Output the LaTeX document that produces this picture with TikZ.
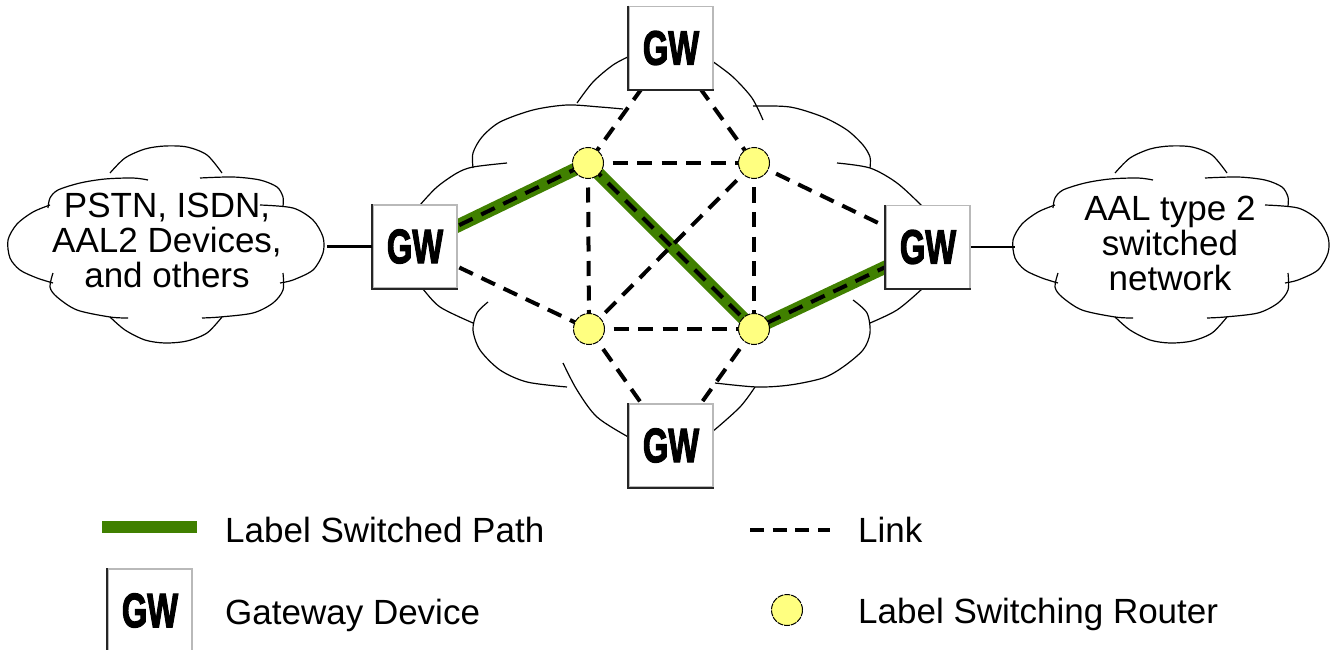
\documentclass[tikz,border=0pt]{standalone}
\usepackage{fontspec}
\setmainfont{Liberation Sans}
\newfontfamily\gwfont{Liberation Sans}[BoldFeatures={FakeBold=3}]
\usetikzlibrary{backgrounds}
\definecolor{lspgreen}{HTML}{408000}
\definecolor{lsryellow}{HTML}{FFFF80}
\newcommand\gwtext{\scalebox{0.68}[1]{\gwfont\bfseries\fontsize{48}{48}\selectfont GW}}
\begin{document}
\begin{tikzpicture}[x=1pt,y=-1pt,
  cloudline/.style={line width=1.2pt, black},
  link/.style={line width=4pt, dash pattern=on 15pt off 9.5pt},
  lsp/.style={line width=13pt, draw=lspgreen},
  gwbox/.style={fill=white, draw=gray!55, line width=1.5pt, minimum width=84pt, minimum height=83pt, inner sep=0pt},
  gwedge/.style={draw=black!85, line width=2pt},
  lsr/.style={circle, fill=lsryellow, draw=black, line width=1pt, dash pattern=on 6pt off 1pt, minimum size=31pt, inner sep=0pt},
  lbl/.style={font=\fontsize{35}{35}\selectfont, inner sep=0pt},
  access/.style={line width=2.5pt}
]
\useasboundingbox (0,0) rectangle (1334,650);

% gateways
\node[gwbox] (gwL) at (415,246.5) {\gwtext};
\node[gwbox] (gwR) at (928,247) {\gwtext};
\node[gwbox] (gwT) at (671,48) {\gwtext};
\node[gwbox] (gwB) at (671,445.5) {\gwtext};
\node[gwbox] (gwLeg) at (150,610.5) {\gwtext};
\foreach \n in {gwL,gwR,gwT,gwB,gwLeg}
  \draw[gwedge] (\n.north west) -- (\n.south west) -- (\n.south east);

% routers
\node[lsr] (r1) at (588,163) {};
\node[lsr] (r2) at (754,163) {};
\node[lsr] (r3) at (589,329) {};
\node[lsr] (r4) at (754,329) {};

% cloud texts
\node[lbl, align=center] (tL) at (167,240) {PSTN, ISDN,\\AAL2 Devices,\\and others};
\node[lbl, align=center] (tR) at (1170,243) {AAL type 2\\switched\\network};

% access lines
\coordinate (cL) at (327,246.5);
\coordinate (cR) at (1015,247);
\draw[access] (gwL) -- (cL);
\draw[access] (gwR) -- (cR);

\begin{pgfonlayer}{background}
  % central cloud
  \draw[cloudline] plot[smooth] coordinates {(577,103) (593,82) (613,65) (632,55) (645,50)};
  \draw[cloudline] plot[smooth] coordinates {(698,52) (712,61) (733,77) (752,98) (763,120)};
  \draw[cloudline] plot[smooth] coordinates {(473,168) (473,153) (482,137) (500,122) (533,110) (567,105) (600,107) (623,109)};
  \draw[cloudline] plot[smooth] coordinates {(753,106) (790,107) (823,117) (847,130) (863,145) (870,157) (870,168)};
  \draw[cloudline] plot[smooth] coordinates {(410,218) (420,205) (437,187) (457,173) (473,167) (507,163)};
  \draw[cloudline] plot[smooth] coordinates {(412,277) (422,288) (440,307) (473,323)};
  \draw[cloudline] plot[smooth] coordinates {(837,163) (870,168) (897,183) (923,207) (932,218)};
  \draw[cloudline] plot[smooth] coordinates {(932,278) (922,289) (897,310) (870,323)};
  \draw[cloudline] plot[smooth] coordinates {(488,302) (477,313) (473,330) (480,350) (500,370) (527,382) (567,387)};
  \draw[cloudline] plot[smooth] coordinates {(853,300) (867,313) (870,333) (863,350) (843,367) (823,378) (790,385) (757,387) (715,383)};
  \draw[cloudline] plot[smooth] coordinates {(563,363) (577,390) (597,417) (630,438) (645,445)};
  \draw[cloudline] plot[smooth] coordinates {(755,387) (740,407) (712,432) (700,440)};

  % side clouds
  \foreach \dx in {0,1005} {
    \begin{scope}[shift={(\dx,0)}]
      \draw[cloudline] plot[smooth] coordinates {(110,173) (125,158) (145,149) (165,146) (187,147) (207,155) (222,173)};
      \draw[cloudline] plot[smooth] coordinates {(48,208) (50,198) (58,190) (80,183) (105,179) (133,178) (148,180)};
      \draw[cloudline] plot[smooth] coordinates {(200,178) (233,177) (260,180) (277,187) (283,197) (283,206)};
      \draw[cloudline] plot[smooth] coordinates {(50,205) (33,212) (17,224) (8,240) (10,258) (20,270) (37,278) (53,283)};
      \draw[cloudline] plot[smooth] coordinates {(260,205) (293,208) (313,220) (323,237) (323,253) (313,270) (293,280) (280,283)};
      \draw[cloudline] plot[smooth] coordinates {(53,273) (50,287) (57,297) (77,310) (110,317) (128,318)};
      \draw[cloudline] plot[smooth] coordinates {(283,273) (283,290) (273,303) (253,313) (220,317) (202,318)};
      \draw[cloudline] plot[smooth] coordinates {(110,317) (125,330) (145,340) (165,343) (187,341) (207,333) (222,317)};
    \end{scope}
  }

  % label switched path
  \draw[lsp] (gwL.center) -- (r1.center) -- (r4.center) -- (gwR.center);
  \draw[link] (gwL.center) -- (r1.center) -- (r4.center) -- (gwR.center);
  % links
  \draw[link] (gwL.center) -- (r3.center);
  \draw[link] (gwT.center) -- (r1.center);
  \draw[link] (gwT.center) -- (r2.center);
  \draw[link] (r1.center) -- (r2.center);
  \draw[link] (r1.center) -- (r3.center);
  \draw[link] (r2.center) -- (r3.center);
  \draw[link] (r2.center) -- (r4.center);
  \draw[link] (r2.center) -- (gwR.center);
  \draw[link] (r3.center) -- (r4.center);
  \draw[link] (r3.center) -- (gwB.center);
  \draw[link] (r4.center) -- (gwB.center);
\end{pgfonlayer}

% legend
\coordinate (lspA) at (102,527);
\coordinate (lspB) at (197,527);
\draw[lsp, line width=12pt] (lspA) -- (lspB);
\node[lbl, anchor=base west] (txLSP) at (225,542) {Label Switched Path};
\coordinate (lkA) at (750,530);
\coordinate (lkB) at (830,530);
\draw[link, line width=3.5pt, dash pattern=on 14pt off 8.7pt] (lkA) -- (lkB);
\node[lbl, anchor=base west] (txLink) at (858,542) {Link};
\node[lbl, anchor=base west] (txGW) at (225,624) {Gateway Device};
\node[lsr] (lsrLeg) at (787,610) {};
\node[lbl, anchor=base west] (txLSR) at (858,623) {Label Switching Router};
\end{tikzpicture}
\end{document}
